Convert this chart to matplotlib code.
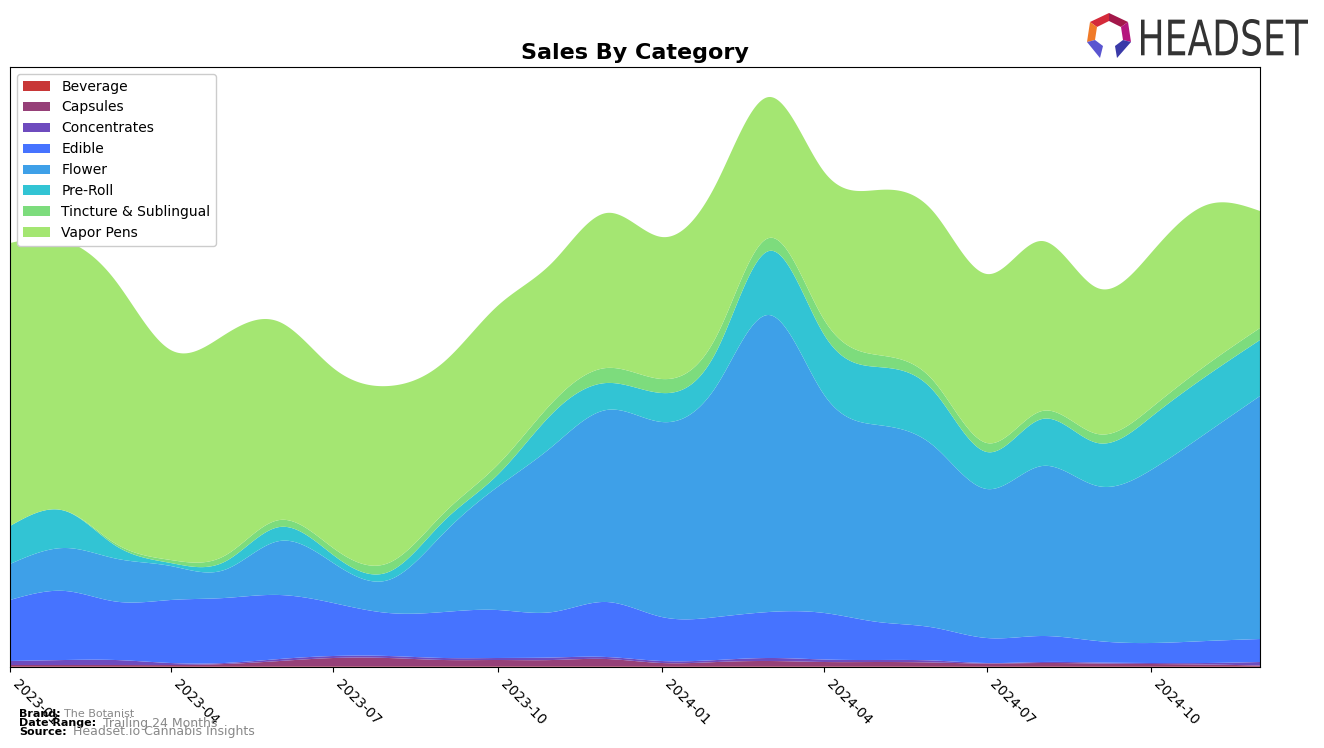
import numpy as np
import matplotlib
matplotlib.use("Agg")
import matplotlib.pyplot as plt
import matplotlib.dates as mdates
from matplotlib.textpath import TextPath
from matplotlib.patches import PathPatch, Polygon
from matplotlib.font_manager import FontProperties
from matplotlib.transforms import Affine2D
import datetime as dt

# ---------------- data ----------------
months = ["2023-01", "2023-02", "2023-03", "2023-04", "2023-05", "2023-06",
          "2023-07", "2023-08", "2023-09", "2023-10", "2023-11", "2023-12",
          "2024-01", "2024-02", "2024-03", "2024-04", "2024-05", "2024-06",
          "2024-07", "2024-08", "2024-09", "2024-10", "2024-11", "2024-12"]

categories = ["Beverage", "Capsules", "Concentrates", "Edible", "Flower",
              "Pre-Roll", "Tincture & Sublingual", "Vapor Pens"]

beverage = [0.5] * 24
capsules = [1.5, 1.5, 1.5, 1.5, 2.5, 5.5, 8.5, 8.5, 6.5, 6.5, 6.5, 7.5,
            3.5, 4.5, 5.5, 4.5, 4.5, 4.0, 3.0, 3.5, 3.0, 2.5, 2.0, 1.0]
concentrates = [4, 5, 5, 2, 1, 2, 2, 2, 2, 2, 2.5, 2,
                2, 2, 3, 2.5, 2, 2, 0.5, 1, 1, 1, 1.5, 3.5]
edible = [61, 69, 58.5, 63, 65, 64, 53, 43, 46, 48, 45.5, 55,
          44, 43, 46, 46.5, 38, 33, 25, 26, 21.5, 20, 22, 23]
flower = [36, 43, 43, 34, 28, 54, 40, 33, 79, 123, 166, 192,
          195, 232, 297, 218, 197, 182, 149, 170, 155, 173, 208, 243]
pre_roll = [38, 37, 13, 3, 8, 14, 8, 8, 12, 12, 33, 27,
            29, 35, 64, 60, 58, 55, 37, 47, 43, 53, 57, 56]
tincture = [0, 0, 2, 3, 6, 7, 7, 9, 8, 10, 11, 15,
            14, 15, 13, 15, 12, 10, 9, 8, 9, 9, 11, 12]
vapor_pens = [283, 270, 263, 210, 221, 198, 180, 177, 151, 159, 140, 155,
              142, 153, 141, 148, 165, 169, 169, 170, 146, 155, 160, 117]

series = [beverage, capsules, concentrates, edible, flower, pre_roll, tincture, vapor_pens]
colors = ["#C83737", "#964078", "#6E4BBE", "#4673FF", "#3EA0E8",
          "#32C4D4", "#7DDC7D", "#A4E672"]


def natural_spline(x, y, xs):
    x = np.asarray(x, float)
    y = np.asarray(y, float)
    n = len(x)
    h = np.diff(x)
    A = np.zeros((n, n))
    b = np.zeros(n)
    A[0, 0] = 1
    A[-1, -1] = 1
    for i in range(1, n - 1):
        A[i, i - 1] = h[i - 1]
        A[i, i] = 2 * (h[i - 1] + h[i])
        A[i, i + 1] = h[i]
        b[i] = 3 * ((y[i + 1] - y[i]) / h[i] - (y[i] - y[i - 1]) / h[i - 1])
    c = np.linalg.solve(A, b)
    bb = (y[1:] - y[:-1]) / h - h * (2 * c[:-1] + c[1:]) / 3
    d = (c[1:] - c[:-1]) / (3 * h)
    idx = np.clip(np.searchsorted(x, xs) - 1, 0, n - 2)
    t = xs - x[idx]
    return y[idx] + bb[idx] * t + c[idx] * t ** 2 + d[idx] * t ** 3


x = mdates.date2num([dt.datetime.strptime(m, "%Y-%m") for m in months])
xs = np.linspace(x[0], x[-1], 800)
smooth = [np.clip(natural_spline(x, s, xs), 0, None) for s in series]

# ---------------- figure ----------------
fig = plt.figure(figsize=(13.24, 7.48), dpi=100)
ax = fig.add_axes([10 / 1324, 1 - 667 / 748, 1250 / 1324, 600 / 748])
ax.stackplot(xs, *smooth, labels=categories, colors=colors, linewidth=0)
ax.set_xlim(x[0], x[-1])
ax.set_ylim(0, 600)
ax.set_yticks([])
ax.xaxis.set_major_locator(mdates.MonthLocator(bymonth=[1, 4, 7, 10]))
ax.xaxis.set_major_formatter(mdates.DateFormatter("%Y-%m"))
for lbl in ax.get_xticklabels():
    lbl.set_rotation(-45)
    lbl.set_ha("left")
    lbl.set_fontsize(10)
ax.set_title("Sales By Category", fontsize=16, fontweight="bold", pad=6)
ax.legend(loc="upper left", fontsize=10, framealpha=1)

# footer
fig.text(19 / 1324, 1 - 714 / 748, "Brand:", fontsize=8, fontweight="bold", va="center")
fig.text(64 / 1324, 1 - 714 / 748, "The Botanist", fontsize=8, color="#888888", va="center")
fig.text(19 / 1324, 1 - 723 / 748, "Date Range:", fontsize=8, fontweight="bold", va="center")
fig.text(103 / 1324, 1 - 723 / 748, "Trailing 24 Months", fontsize=9, color="#888888", va="center")
fig.text(19 / 1324, 1 - 732 / 748, "Source:", fontsize=8, fontweight="bold", va="center")
fig.text(73 / 1324, 1 - 732 / 748, "Headset.io Cannabis Insights", fontsize=9, color="#888888", va="center")

# logo (pixel coordinate overlay)
lax = fig.add_axes([0, 0, 1, 1], zorder=5)
lax.set_xlim(0, 1324)
lax.set_ylim(748, 0)
lax.axis("off")
lax.patch.set_alpha(0)

tp = TextPath((0, 0), "HEADSET", size=100, prop=FontProperties(family="DejaVu Sans"))
bb = tp.get_extents()
sx = (1308 - 1141) / bb.width
sy = (56 - 19) / bb.height
tr = Affine2D().translate(-bb.x0, -bb.y0).scale(sx, -sy).translate(1141, 56)
lax.add_patch(PathPatch(tr.transform_path(tp), color="#333333", lw=0))

segs = [
    ([(1090, 22), (1109, 13), (1109, 21), (1097, 27)], "#D42A3A"),
    ([(1109, 13), (1128, 22), (1121, 27), (1109, 21)], "#A3184A"),
    ([(1128, 22), (1131, 42), (1123, 40), (1121, 27)], "#B5157E"),
    ([(1090, 22), (1097, 27), (1095, 40), (1087, 42)], "#F07A28"),
    ([(1087, 42), (1095, 40), (1103, 46), (1100, 58)], "#5A55D0"),
    ([(1131, 42), (1117, 58), (1115, 46), (1123, 40)], "#3A3AA8"),
]
for pts, c in segs:
    lax.add_patch(Polygon(pts, closed=True, color=c, lw=0))

fig.savefig("out.png", dpi=100)
